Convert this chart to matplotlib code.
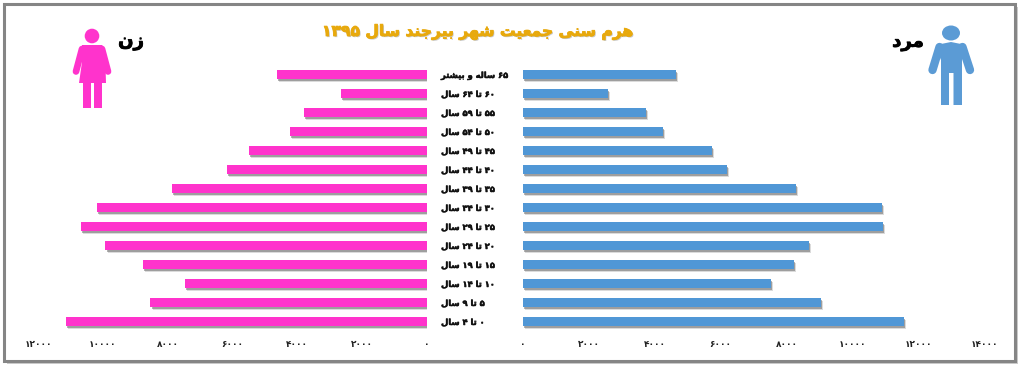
import matplotlib
matplotlib.use("Agg")
import matplotlib.pyplot as plt
import matplotlib.patheffects as pe
from matplotlib.patches import Rectangle, Circle, Ellipse, Polygon

W, H = 1024, 371

TITLE = "هرم سنی جمعیت شهر بیرجند سال ۱۳۹۵"
FEMALE_LABEL = "زن"
MALE_LABEL = "مرد"

AGE_GROUPS = [
    "۰ تا ۴ سال", "۵ تا ۹ سال", "۱۰ تا ۱۴ سال", "۱۵ تا ۱۹ سال", "۲۰ تا ۲۴ سال",
    "۲۵ تا ۲۹ سال", "۳۰ تا ۳۴ سال", "۳۵ تا ۳۹ سال", "۴۰ تا ۴۴ سال", "۴۵ تا ۴۹ سال",
    "۵۰ تا ۵۴ سال", "۵۵ تا ۵۹ سال", "۶۰ تا ۶۴ سال", "۶۵ ساله و بیشتر",
]
female = [11130, 8530, 7480, 8750, 9920, 10670, 10170, 7880, 6180, 5500, 4240, 3800, 2660, 4640]
male = [11580, 9060, 7540, 8240, 8690, 10940, 10910, 8300, 6200, 5750, 4260, 3740, 2580, 4650]

female_ticks = [0, 2000, 4000, 6000, 8000, 10000, 12000]
male_ticks = [0, 2000, 4000, 6000, 8000, 10000, 12000, 14000]

PINK = "#FF33CC"
BLUE = "#5097D6"
ICON_BLUE = "#5B9BD5"
GOLD = "#E8A90C"

# letter: isolated, final, initial, medial (presentation forms)
FORMS = {
    "ا": "\uFE8D\uFE8E", "د": "\uFEA9\uFEAA", "ر": "\uFEAD\uFEAE", "ز": "\uFEAF\uFEB0",
    "و": "\uFEED\uFEEE",
    "ب": "\uFE8F\uFE90\uFE91\uFE92", "ت": "\uFE95\uFE96\uFE97\uFE98",
    "ج": "\uFE9D\uFE9E\uFE9F\uFEA0", "س": "\uFEB1\uFEB2\uFEB3\uFEB4",
    "ش": "\uFEB5\uFEB6\uFEB7\uFEB8", "ع": "\uFEC9\uFECA\uFECB\uFECC",
    "ل": "\uFEDD\uFEDE\uFEDF\uFEE0", "م": "\uFEE1\uFEE2\uFEE3\uFEE4",
    "ن": "\uFEE5\uFEE6\uFEE7\uFEE8", "ه": "\uFEE9\uFEEA\uFEEB\uFEEC",
    "ی": "\uFBFC\uFBFD\uFBFE\uFBFF",
}
PERSIAN_DIGITS = "۰۱۲۳۴۵۶۷۸۹"


def shape_word(word):
    out = []
    for i, ch in enumerate(word):
        forms = FORMS[ch]
        joins_prev = i > 0 and len(FORMS[word[i - 1]]) == 4
        joins_next = i < len(word) - 1 and len(forms) == 4
        if joins_prev and joins_next:
            out.append(forms[3])
        elif joins_prev:
            out.append(forms[1])
        elif joins_next:
            out.append(forms[2])
        else:
            out.append(forms[0])
    return "".join(reversed(out))


def rtl(text):
    # matplotlib does no shaping or bidi, so lay the string out visually
    tokens = []
    for tok in text.split(" "):
        tokens.append(tok if tok[0] in PERSIAN_DIGITS else shape_word(tok))
    return " ".join(reversed(tokens))


def fa_number(n):
    return "".join(PERSIAN_DIGITS[int(c)] for c in str(n))


def axes_px(fig, left, top, right, bottom):
    return fig.add_axes([left / W, 1 - bottom / H, (right - left) / W, (bottom - top) / H])


def style_axis(ax, ticks):
    for s in ax.spines.values():
        s.set_visible(False)
    ax.patch.set_alpha(0)
    ax.set_xticks(ticks, [fa_number(t) for t in ticks], fontsize=6.5, fontweight="bold", color="#222222")
    ax.tick_params(axis="x", length=0, pad=6.5)
    ax.set_ylim(-0.5, len(AGE_GROUPS) - 0.5)


def main():
    plt.rcParams["font.family"] = ["DejaVu Sans"]
    fig = plt.figure(figsize=(W / 100, H / 100), dpi=100, facecolor="white")

    # ── Backdrop: frame and pictograms in pixel coordinates ──────────────────
    bg = fig.add_axes([0, 0, 1, 1])
    bg.set_xlim(0, W)
    bg.set_ylim(H, 0)
    bg.axis("off")
    frame = Rectangle((4, 4), 1011, 357, facecolor="white", edgecolor="#858585", linewidth=2.2)
    frame.set_path_effects([pe.SimplePatchShadow(offset=(2, -2), shadow_rgbFace="#999999", alpha=0.5), pe.Normal()])
    bg.add_patch(frame)

    # woman
    bg.add_patch(Circle((92, 36), 7.3, color=PINK, lw=0))
    bg.add_patch(Polygon([(82, 45), (102, 45), (105, 49), (106, 83), (79, 83), (82, 62), (82, 49)], color=PINK, lw=0))
    bg.add_patch(Polygon([(81, 46), (103, 46), (98, 60), (86, 60)], color=PINK, lw=0))
    bg.add_patch(Rectangle((83, 82), 8, 26, color=PINK, lw=0))
    bg.add_patch(Rectangle((94, 82), 7.5, 26, color=PINK, lw=0))
    for xs, ys in [((82, 76), (49, 71.5)), ((102, 108), (49, 71.5))]:
        bg.plot(xs, ys, color=PINK, lw=4.8, solid_capstyle="round")

    # man
    bg.add_patch(Ellipse((951, 33), 18, 15, color=ICON_BLUE, lw=0))
    bg.add_patch(Polygon([(941, 44), (951, 42), (961, 44), (966, 47), (962, 60), (962, 105),
                          (953.5, 105), (953.5, 73), (949, 73), (949, 105), (941, 105), (941, 60), (936, 47)],
                         color=ICON_BLUE, lw=0))
    for xs, ys in [((939.5, 932.5), (47, 70)), ((962.5, 970), (47, 70))]:
        bg.plot(xs, ys, color=ICON_BLUE, lw=6, solid_capstyle="round")

    # ── Bars ─────────────────────────────────────────────────────────────────
    y = list(range(len(AGE_GROUPS)))
    shadow = [pe.SimplePatchShadow(offset=(1.5, -2.2), shadow_rgbFace="#888888", alpha=0.3),
              pe.SimplePatchShadow(offset=(0.8, -1.2), shadow_rgbFace="#555555", alpha=0.45),
              pe.Normal()]

    ax_f = axes_px(fig, 38, 65, 427, 331)
    bars_f = ax_f.barh(y, female, height=0.47, color=PINK)
    ax_f.set_xlim(12000, 0)
    style_axis(ax_f, female_ticks)
    ax_f.set_yticks([])

    ax_m = axes_px(fig, 523, 65, 984, 331)
    bars_m = ax_m.barh(y, male, height=0.47, color=BLUE)
    ax_m.set_xlim(0, 14000)
    style_axis(ax_m, male_ticks)
    ax_m.set_yticks(y, [rtl(a) for a in AGE_GROUPS], fontsize=6, fontweight="bold", color="#111111", ha="left")
    # pad is in points: label start at x=441 px
    ax_m.tick_params(axis="y", length=0, pad=59)
    for lab in ax_m.get_yticklabels():
        lab.set_path_effects([pe.withStroke(linewidth=0.35, foreground="#111111")])

    for bar in list(bars_f) + list(bars_m):
        bar.set_path_effects(shadow)

    # ── Text ─────────────────────────────────────────────────────────────────
    t = bg.text(477, 32, rtl(TITLE), fontsize=11.2, fontweight="bold", color=GOLD, ha="center", va="center")
    t.set_path_effects([pe.SimplePatchShadow(offset=(0.8, -0.8), shadow_rgbFace="#777777", alpha=0.4),
                        pe.withStroke(linewidth=0.6, foreground=GOLD)])
    for x, yy, s in [(131, 41, FEMALE_LABEL), (908, 42, MALE_LABEL)]:
        lab = bg.text(x, yy, rtl(s), fontsize=13, fontweight="bold", color="black", ha="center", va="center")
        lab.set_path_effects([pe.withStroke(linewidth=0.6, foreground="black")])

    fig.savefig("out.png", dpi=100)


if __name__ == "__main__":
    main()
